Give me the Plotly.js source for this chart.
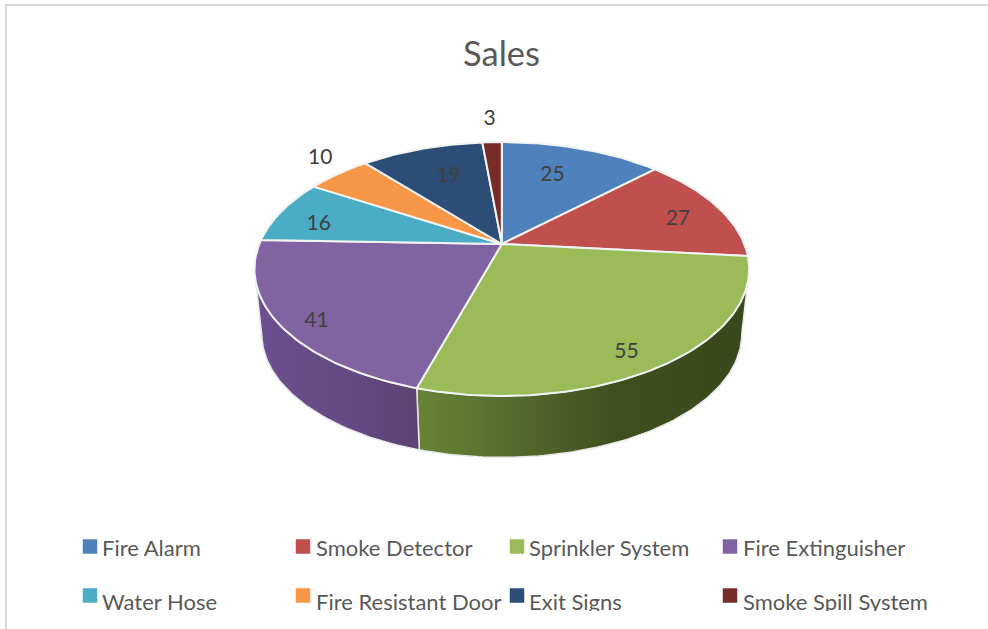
<!DOCTYPE html>
<html>
<head>
<meta charset="utf-8">
<title>Sales</title>
<script src="https://cdn.plot.ly/plotly-3.0.1.min.js"></script>
<style>
  html, body { margin: 0; padding: 0; background: #fff; }
  #chart { position: absolute; left: 0; top: 0; width: 988px; height: 629px; }
  /* The chart frame cuts the second legend row off at its lower edge. */
  #fold { position: absolute; left: 8px; top: 611px; width: 980px; height: 18px; background: #fff; }
</style>
</head>
<body>
<div id="chart"></div>
<div id="fold"></div>
<script>
// Sales per product
const categories = ["Fire Alarm", "Smoke Detector", "Sprinkler System", "Fire Extinguisher",
                    "Water Hose", "Fire Resistant Door", "Exit Signs", "Smoke Spill System"];
const sales = [25, 27, 55, 41, 16, 10, 19, 3];
const sliceColors = ["#4f81bd", "#c0504d", "#9bbb59", "#8064a2", "#4bacc6", "#f79646", "#2c4d75", "#772c2a"];

// Shading of the visible outer wall, per slice that faces the viewer
const wallShades = {
  2: [[0, "#688335"], [0.3, "#56692e"], [0.6, "#3f4f1c"], [1, "#39481b"]],
  3: [[0, "#6c5090"], [0.5, "#644a84"], [1, "#5c4473"]]
};

// How far from the centre each value label sits, as a share of the radius
const labelRadius = [0.70, 0.80, 0.86, 0.875, 0.81, 1.21, 0.69, 1.31];
// Fine placement of each value label, in axis units
const labelNudge = [[-8, 2], [2, 6], [-11, 8], [6, 8], [-3, 8], [12, -2], [5, 2], [0, 3]];

// Projection of the tilted disc
const pie = { cx: 501.8, cy: 244, a: 242.5, b: 122, k: 0.197, depth: 66, shrink: 0.97 };

function project(deg, r, lower) {
  const t = deg * Math.PI / 180;
  const u = r * Math.sin(t), v = -r * Math.cos(t);
  const w = 1 - pie.k * v;
  const s = lower ? pie.shrink : 1;
  return [pie.cx + s * pie.a * u / w,
          pie.cy + (lower ? pie.depth : 0) + s * pie.b * v / w];
}

function arc(from, to, lower) {
  const n = Math.max(2, Math.ceil(Math.abs(to - from)));
  const pts = [];
  for (let i = 0; i <= n; i++) pts.push(project(from + (to - from) * i / n, 1, lower));
  return pts;
}

const total = sales.reduce((p, c) => p + c, 0);
const edges = [0];
sales.forEach(v => edges.push(edges[edges.length - 1] + v / total * 360));

// The wall is only visible between the two tangents of the disc outline
const tangent = Math.acos(-pie.k) * 180 / Math.PI;
const traces = [];

sales.forEach((_, i) => {
  const from = Math.max(edges[i], tangent), to = Math.min(edges[i + 1], 360 - tangent);
  if (from >= to) return;
  const pts = arc(from, to, false).concat(arc(to, from, true));
  pts.push(pts[0]);
  const xs = pts.map(p => p[0]);
  traces.push({
    type: "scatter", mode: "lines", hoverinfo: "skip", showlegend: false,
    x: xs, y: pts.map(p => p[1]),
    fill: "toself",
    fillcolor: sliceColors[i],
    fillgradient: {
      type: "horizontal",
      start: Math.min(...xs), stop: Math.max(...xs),
      colorscale: wallShades[i] || [[0, sliceColors[i]], [1, sliceColors[i]]]
    },
    line: { color: "#e6e8ea", width: 1.5 }
  });
});

// Top face of the pie
sales.forEach((_, i) => {
  const pts = [[pie.cx, pie.cy]].concat(arc(edges[i], edges[i + 1], false));
  pts.push([pie.cx, pie.cy]);
  traces.push({
    type: "scatter", mode: "lines", hoverinfo: "skip", showlegend: false,
    x: pts.map(p => p[0]), y: pts.map(p => p[1]),
    fill: "toself", fillcolor: sliceColors[i],
    line: { color: "#f2f4f4", width: 2 }
  });
});

// Value labels
const labelPts = sales.map((_, i) => project((edges[i] + edges[i + 1]) / 2, labelRadius[i], false));
traces.push({
  type: "scatter", mode: "text", hoverinfo: "skip", showlegend: false,
  x: labelPts.map((p, i) => p[0] + labelNudge[i][0]),
  y: labelPts.map((p, i) => p[1] + labelNudge[i][1]),
  text: sales.map(String), textposition: "middle center",
  textfont: { family: "Lato, Carlito, sans-serif", size: 21, color: "#404040" }
});

// Legend: four columns, two rows
const legendX = [90, 303, 517, 730];
const legendTextX = [101, 315, 528, 742];
const swatchY = [546.5, 595.5];
const legendTextY = [547, 601];

traces.push({
  type: "scatter", mode: "markers", hoverinfo: "skip", showlegend: false,
  x: categories.map((_, i) => legendX[i % 4]),
  y: categories.map((_, i) => swatchY[Math.floor(i / 4)]),
  marker: { symbol: "square", size: 14.5, color: sliceColors, line: { width: 0 } }
});

const legendNotes = categories.map((name, i) => ({
  text: name, xref: "x", yref: "y",
  x: legendTextX[i % 4], y: legendTextY[Math.floor(i / 4)],
  xanchor: "left", yanchor: "middle", showarrow: false,
  borderpad: 0,
  font: { family: "Lato, Carlito, sans-serif", size: 22, color: "#595959" }
}));

const layout = {
  width: 988, height: 629,
  margin: { l: 0, r: 0, t: 0, b: 0 },
  paper_bgcolor: "#ffffff", plot_bgcolor: "#ffffff",
  showlegend: false,
  title: {
    text: "Sales", xref: "paper", yref: "paper",
    x: 501.5 / 988, y: 1 - 54 / 629, xanchor: "center", yanchor: "middle",
    font: { family: "Lato, Carlito, sans-serif", size: 34.5, color: "#595959" }
  },
  xaxis: { range: [0, 988], visible: false, fixedrange: true },
  yaxis: { range: [629, 0], visible: false, fixedrange: true },
  annotations: legendNotes,
  shapes: [
    { type: "line", xref: "x", yref: "y", x0: 5, x1: 988, y0: 5, y1: 5, line: { color: "#d9d9d9", width: 2 } },
    { type: "line", xref: "x", yref: "y", x0: 6, x1: 6, y0: 4, y1: 629, line: { color: "#d9d9d9", width: 2 } }
  ]
};

Plotly.newPlot("chart", traces, layout, { displayModeBar: false, staticPlot: true });
</script>
</body>
</html>
